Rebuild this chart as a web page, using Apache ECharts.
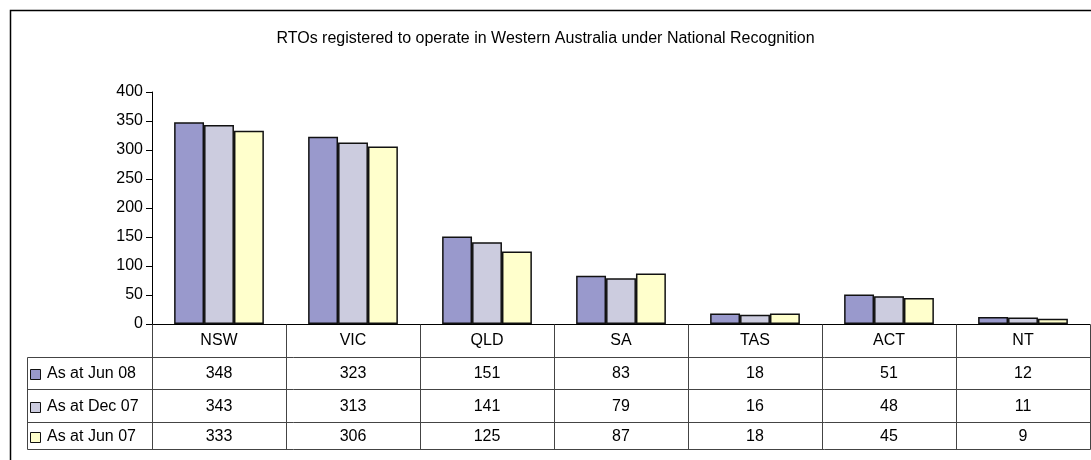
<!DOCTYPE html>
<html>
<head>
<meta charset="utf-8">
<script src="https://cdn.jsdelivr.net/npm/echarts@6/dist/echarts.min.js"></script>
<style>
  html, body { margin: 0; padding: 0; background: #fff; }
  #main { width: 1091px; height: 460px; }
</style>
</head>
<body>
<div id="main"></div>
<script>
  var states = ['NSW', 'VIC', 'QLD', 'SA', 'TAS', 'ACT', 'NT'];
  var seriesNames = ['As at Jun 08', 'As at Dec 07', 'As at Jun 07'];
  var jun08 = [348, 323, 151, 83, 18, 51, 12];
  var dec07 = [343, 313, 141, 79, 16, 48, 11];
  var jun07 = [333, 306, 125, 87, 18, 45, 9];
  var seriesData = [jun08, dec07, jun07];
  var colors = ['#9999cc', '#ccccdf', '#ffffcc'];

  var font = '"Liberation Sans", Arial, sans-serif';
  var chart = echarts.init(document.getElementById('main'));

  var option = {
    animation: false,
    backgroundColor: '#fff',
    title: {
      text: 'RTOs registered to operate in Western Australia under National Recognition',
      left: 'center',
      top: 26,
      textStyle: {fontSize: 16, fontWeight: 'normal', color: '#000', fontFamily: font}
    },
    grid: {left: 152, right: 1, top: 92, bottom: 136},
    xAxis: {
      type: 'category',
      data: states,
      axisLine: {lineStyle: {color: '#000', width: 1}},
      axisTick: {show: false},
      axisLabel: {fontSize: 16, color: '#000', fontFamily: font, margin: 9}
    },
    yAxis: {
      type: 'value',
      min: 0,
      max: 400,
      interval: 50,
      axisLine: {show: true, lineStyle: {color: '#000'}},
      axisTick: {show: true, length: 6, lineStyle: {color: '#000'}},
      splitLine: {show: false},
      axisLabel: {fontSize: 16, color: '#000', fontFamily: font, margin: 9}
    },
    series: seriesNames.map(function (name, i) {
      return {
        name: name,
        type: 'bar',
        data: seriesData[i],
        barGap: '0%',
        barCategoryGap: '33%',
        itemStyle: {color: colors[i], borderColor: '#111', borderWidth: 1.5}
      };
    })
  };
  chart.setOption(option);

  // data table under the axis
  var tableLeft = 27, axisX = 152.5, tableRight = 1090.5;
  var rowLines = [324.5, 357.5, 389.5, 422.5, 449.5];
  var lineColor = '#444';
  var g = [];
  function line(x1, y1, x2, y2) {
    g.push({type: 'line', shape: {x1: x1, y1: y1, x2: x2, y2: y2},
      style: {stroke: lineColor, lineWidth: 1}, z: 10});
  }
  function text(t, x, y, align) {
    g.push({type: 'text', x: x, y: y, z: 11,
      style: {text: t, fill: '#000', font: '16px ' + font, align: align || 'center', verticalAlign: 'middle'}});
  }

  for (var r = 1; r < rowLines.length; r++) {
    line(tableLeft + 0.5, rowLines[r], tableRight, rowLines[r]);
  }
  line(tableLeft + 0.5, rowLines[1], tableLeft + 0.5, rowLines[4]);
  line(axisX, rowLines[0], axisX, rowLines[4]);
  var step = chart.convertToPixel({xAxisIndex: 0}, states[1]) - chart.convertToPixel({xAxisIndex: 0}, states[0]);
  states.forEach(function (s, c) {
    var cx = chart.convertToPixel({xAxisIndex: 0}, s);
    var right = Math.round(cx + step / 2) + 0.5;
    line(right, rowLines[0], right, rowLines[4]);
    seriesData.forEach(function (arr, i) {
      text(String(arr[c]), cx, (rowLines[i + 1] + rowLines[i + 2]) / 2 + 0.5);
    });
  });
  seriesNames.forEach(function (name, i) {
    var cy = (rowLines[i + 1] + rowLines[i + 2]) / 2 + 0.5;
    g.push({type: 'rect', shape: {x: 30.5, y: Math.round(cy - 5) + 0.5, width: 10, height: 10},
      style: {fill: colors[i], stroke: '#111', lineWidth: 1}, z: 11});
    text(name, 47, cy, 'left');
  });
  // outer chart frame
  g.push({type: 'rect', shape: {x: 10.5, y: 10.5, width: 1200, height: 600},
    style: {fill: null, stroke: '#000', lineWidth: 1.5}, z: 12});

  chart.setOption({graphic: g});
</script>
</body>
</html>
